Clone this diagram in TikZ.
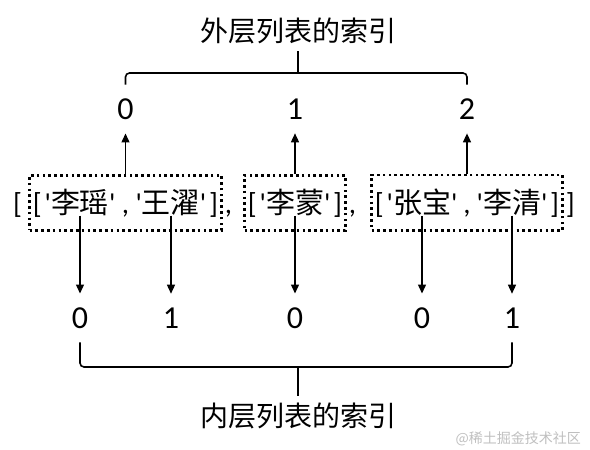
\documentclass[tikz,border=0pt]{standalone}
\usepackage{fontspec}
\setmainfont{Carlito}
\newfontfamily\cjk{Noto Sans CJK SC}
\usetikzlibrary{positioning, fit, arrows.meta}

\newcommand{\q}{\textquotesingle}

\begin{document}
\begin{tikzpicture}[x=0.5pt, y=-0.5pt,
    every node/.style={font=\fontsize{14.5}{17}\selectfont},
    item/.style={anchor=base, inner sep=0pt},
    idx/.style={font=\fontsize{16}{19}\selectfont, inner sep=0pt, outer sep=7pt},
    title/.style={font=\cjk\fontsize{14}{17}\selectfont},
    group/.style={draw, line width=1.3pt, dash pattern=on 1.3pt off 1.6pt,
                  inner xsep=1.5pt, inner ysep=6.5pt},
    arr/.style={-{Triangle[length=4.5pt,width=4pt]}, line width=0.7pt},
    brace/.style={line width=0.8pt, rounded corners=2pt}]

    \useasboundingbox (0,0) rectangle (590,450);

    % Title of the outer list
    \node[title] (outer) at (298,31) {外层列表的索引};

    % The nested list, one node per element
    \node[item] (e1) at (80,213)  {\q{\cjk 李瑶}\q};
    \node[item] (e2) at (171,213) {\q{\cjk 王濯}\q};
    \node[item] (e3) at (295,213) {\q{\cjk 李蒙}\q};
    \node[item] (e4) at (422,213) {\q{\cjk 张宝}\q};
    \node[item] (e5) at (512,213) {\q{\cjk 李清}\q};

    % Brackets and commas
    \node[item, anchor=base east] (l1) at ([xshift=-1pt]e1.base west) {[};
    \node[item, anchor=base west] (r1) at ([xshift=1pt]e2.base east) {]};
    \node[item, anchor=base east] (l2) at ([xshift=-1pt]e3.base west) {[};
    \node[item, anchor=base west] (r2) at ([xshift=1pt]e3.base east) {]};
    \node[item, anchor=base east] (l3) at ([xshift=-1pt]e4.base west) {[};
    \node[item, anchor=base west] (r3) at ([xshift=1pt]e5.base east) {]};
    \node[item, anchor=base east] (ol) at ([xshift=-5pt]l1.base west) {[};
    \node[item, anchor=base west] (or) at ([xshift=3pt]r3.base east) {]};
    \path (e1.base) -- node[item] (c1) {,} (e2.base);
    \path (e4.base) -- node[item] (c2) {,} (e5.base);
    \node[item, anchor=base west] (c3) at ([xshift=3pt]r1.base east) {,};
    \node[item, anchor=base west] (c4) at ([xshift=3pt]r2.base east) {,};

    % Dotted boxes round the inner lists
    \node[group, fit=(l1)(r1)(e1)(e2)] (g1) {};
    \node[group, fit=(l2)(r2)(e3)] (g2) {};
    \node[group, fit=(l3)(r3)(e4)(e5)] (g3) {};

    % Outer indices
    \node[idx] (t0) at (g1.north |- 0,109) {0};
    \node[idx] (t1) at (g2.north |- 0,109) {1};
    \node[idx] (t2) at (g3.north |- 0,109) {2};
    \foreach \g/\t in {g1/t0, g2/t1, g3/t2}
        \draw[arr] (\g) -- (\t);

    % Inner indices
    \node[idx] (b0) at (e1 |- 0,318) {0};
    \node[idx] (b1) at (e2 |- 0,318) {1};
    \node[idx] (b2) at (e3 |- 0,318) {0};
    \node[idx] (b3) at (e4 |- 0,318) {0};
    \node[idx] (b4) at (e5 |- 0,318) {1};
    \foreach \e/\b in {e1/b0, e2/b1, e3/b2, e4/b3, e5/b4}
        \draw[arr] (\e) -- (\b);

    % Braces
    \coordinate (tb) at (298,73);
    \draw[brace] (t0.north) |- (tb) -| (t2.north);
    \draw[brace] (tb) -- (outer);

    \node[title] (inner) at (298,416) {内层列表的索引};
    \coordinate (bb) at (298,367);
    \draw[brace] (b0.south) |- (bb) -| (b4.south);
    \draw[brace] (bb) -- (inner);

    % Watermark
    \node[font=\cjk\fontsize{7}{8}\selectfont, text=black!25, anchor=east] (mark) at (588,439) {@稀土掘金技术社区};
\end{tikzpicture}
\end{document}
